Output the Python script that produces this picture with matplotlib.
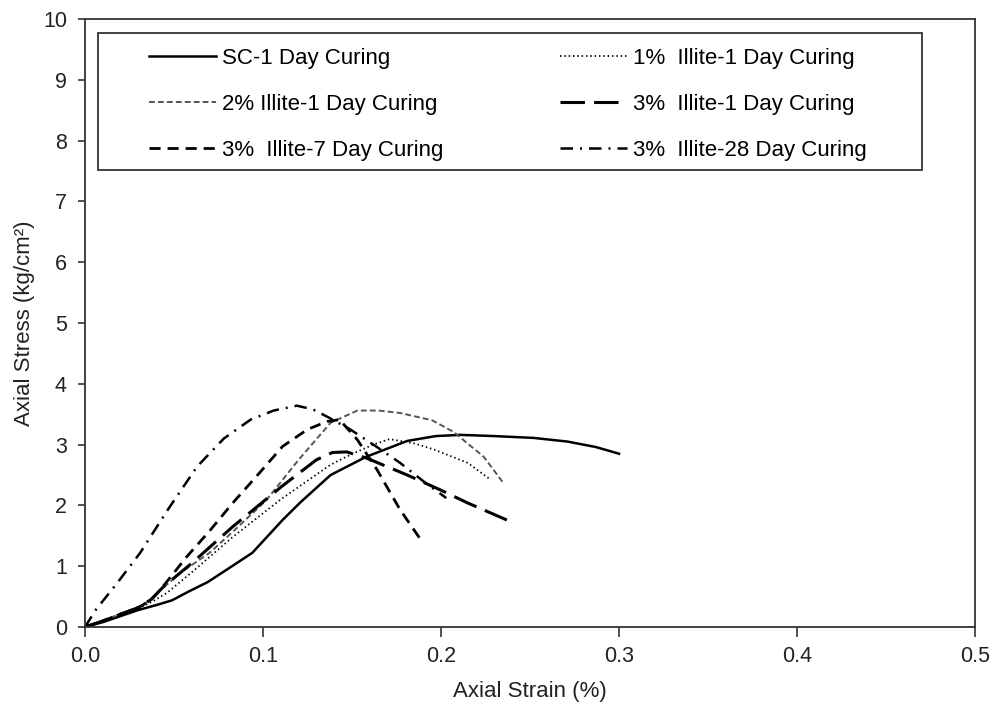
import matplotlib
matplotlib.use('Agg')
from matplotlib import pyplot as plt
from matplotlib.patches import Rectangle

plt.rcParams['font.family'] = ['Liberation Sans', 'DejaVu Sans']

# SC-1 Day Curing
sc_x = [0.0, 0.01, 0.02, 0.03, 0.04, 0.049, 0.058, 0.069, 0.08, 0.094, 0.111, 0.121, 0.138, 0.158, 0.181, 0.197, 0.211, 0.23, 0.252, 0.271, 0.287, 0.30]
sc_y = [0.0, 0.08, 0.18, 0.28, 0.36, 0.44, 0.58, 0.74, 0.95, 1.22, 1.76, 2.05, 2.5, 2.8, 3.06, 3.14, 3.16, 3.14, 3.11, 3.05, 2.96, 2.85]
# 1% Illite-1 Day Curing
i1_x = [0.0, 0.01, 0.02, 0.03, 0.038, 0.046, 0.06, 0.083, 0.11, 0.138, 0.151, 0.162, 0.171, 0.185, 0.196, 0.215, 0.228]
i1_y = [0.0, 0.09, 0.2, 0.31, 0.42, 0.56, 0.9, 1.48, 2.1, 2.67, 2.86, 3.0, 3.09, 3.02, 2.92, 2.7, 2.42]
# 2% Illite-1 Day Curing
i2_x = [0.0, 0.01, 0.02, 0.03, 0.037, 0.042, 0.055, 0.07, 0.085, 0.102, 0.12, 0.138, 0.153, 0.165, 0.177, 0.195, 0.207, 0.224, 0.235]
i2_y = [0.0, 0.1, 0.22, 0.33, 0.45, 0.6, 0.92, 1.22, 1.62, 2.09, 2.75, 3.36, 3.56, 3.56, 3.52, 3.4, 3.21, 2.8, 2.37]
# 3% Illite-1 Day Curing
i3_x = [0.0, 0.01, 0.02, 0.03, 0.037, 0.044, 0.06, 0.083, 0.11, 0.13, 0.139, 0.147, 0.158, 0.181, 0.2, 0.215, 0.237]
i3_y = [0.0, 0.1, 0.21, 0.32, 0.45, 0.66, 1.05, 1.65, 2.3, 2.75, 2.87, 2.88, 2.78, 2.5, 2.25, 2.04, 1.76]
# 3% Illite-7 Day Curing
i7_x = [0.0, 0.01, 0.02, 0.03, 0.037, 0.042, 0.057, 0.07, 0.083, 0.097, 0.111, 0.125, 0.136, 0.143, 0.153, 0.164, 0.177, 0.189]
i7_y = [0.0, 0.1, 0.21, 0.32, 0.44, 0.6, 1.15, 1.58, 2.04, 2.5, 2.97, 3.25, 3.38, 3.41, 3.08, 2.59, 1.93, 1.42]
# 3% Illite-28 Day Curing
i28_x = [0.0, 0.006, 0.018, 0.031, 0.047, 0.063, 0.078, 0.093, 0.106, 0.119, 0.128, 0.136, 0.149, 0.163, 0.177, 0.19, 0.203]
i28_y = [0.0, 0.28, 0.72, 1.22, 1.95, 2.64, 3.1, 3.41, 3.56, 3.64, 3.58, 3.46, 3.25, 2.98, 2.7, 2.4, 2.12]

fig = plt.figure(figsize=(9.98, 7.06), dpi=100)
ax = fig.add_axes([85 / 998, 79 / 706, 890 / 998, 608 / 706])

l_sc, = ax.plot(sc_x, sc_y, color='black', lw=1.8, label='SC-1 Day Curing')
l_i1, = ax.plot(i1_x, i1_y, color='black', lw=1.3, linestyle=(0, (0.8, 1.6)), label='1%  Illite-1 Day Curing')
l_i2, = ax.plot(i2_x, i2_y, color='#555555', lw=1.4, linestyle=(0, (3, 1.6)), label='2% Illite-1 Day Curing')
l_i3, = ax.plot(i3_x, i3_y, color='black', lw=2.2, linestyle=(0, (8, 3)), label='3%  Illite-1 Day Curing')
l_i7, = ax.plot(i7_x, i7_y, color='black', lw=2.0, linestyle=(0, (4, 2.5)), label='3%  Illite-7 Day Curing')
l_i28, = ax.plot(i28_x, i28_y, color='black', lw=1.8, linestyle=(0, (5, 2.8, 0.8, 2.8)), label='3%  Illite-28 Day Curing')

ax.set_xlim(0, 0.5)
ax.set_ylim(0, 10)
ax.set_xticks([0.0, 0.1, 0.2, 0.3, 0.4, 0.5])
ax.set_xticklabels(['0.0', '0.1', '0.2', '0.3', '0.4', '0.5'])
ax.set_yticks(range(0, 11))
ax.tick_params(axis='both', direction='out', length=5, width=1.2, labelsize=15.5,
               color='#333333', labelcolor='#222222', pad=8)
ax.tick_params(axis='x', length=7, pad=7)
for side in ax.spines:
    ax.spines[side].set_color('#333333')
    ax.spines[side].set_linewidth(1.3)
ax.set_xlabel('Axial Strain (%)', fontsize=16, labelpad=10, color='#222222')
ax.set_ylabel('Axial Stress (kg/cm²)', fontsize=16, labelpad=5.5, color='#222222')

# legend: frame drawn separately, two columns placed as two legends
ax.add_patch(Rectangle((13 / 890, 457 / 608), 824 / 890, 137 / 608, transform=ax.transAxes,
                       facecolor='white', edgecolor='#333333', lw=1.3, zorder=4))
kw = dict(loc='upper left', frameon=False, fontsize=16, handlelength=3.0, handletextpad=0.3,
          borderpad=0, borderaxespad=0, labelspacing=1.13)
leg1 = ax.legend([l_sc, l_i2, l_i7], [l_sc.get_label(), l_i2.get_label(), l_i7.get_label()],
                 bbox_to_anchor=(64 / 890, 0.953), **kw)
leg1.set_zorder(5)
ax.add_artist(leg1)
leg2 = ax.legend([l_i1, l_i3, l_i28], [l_i1.get_label(), l_i3.get_label(), l_i28.get_label()],
                 bbox_to_anchor=(475 / 890, 0.953), **kw)
leg2.set_zorder(5)

plt.savefig('out.png', dpi=100)
